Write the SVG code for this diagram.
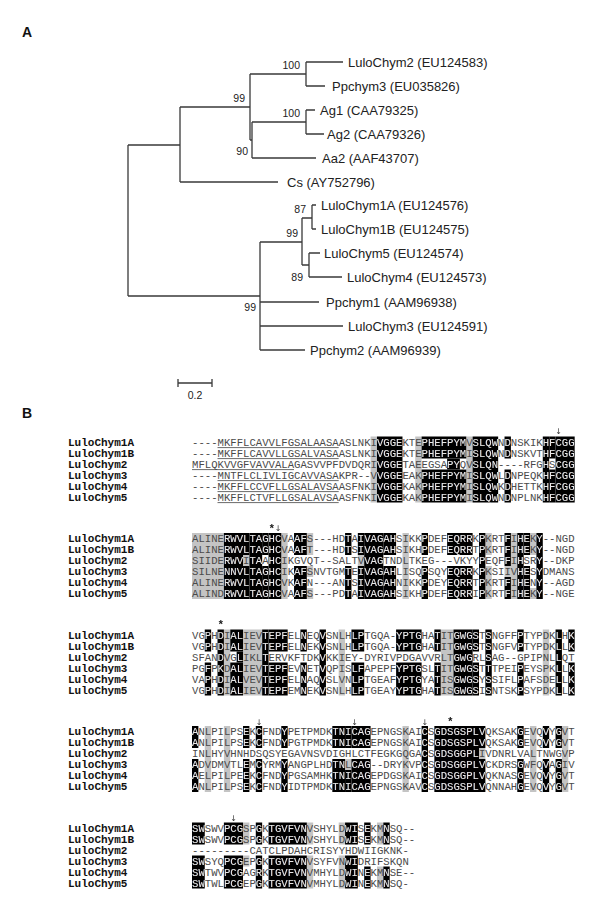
<svg xmlns="http://www.w3.org/2000/svg" xmlns:xlink="http://www.w3.org/1999/xlink" width="600" height="912" viewBox="0 0 600 912">
<style>
.pl{font:bold 14px "Liberation Sans",Arial,sans-serif;fill:#111}
.tl{font:13px "Liberation Sans",Arial,sans-serif;fill:#222}
.bs{font:10.5px "Liberation Sans",Arial,sans-serif;fill:#222}
.br{stroke:#3a3a3a;stroke-width:1.3;fill:none}
.nm{font:bold 11px "Liberation Mono","Courier New",monospace;fill:#111}
.sq{font:10.63px "Liberation Mono","Courier New",monospace}
.g{fill:#c4c4c4}
.mk{font:bold 11px "Liberation Mono",monospace;fill:#111;text-anchor:middle}
.ar{font:8px "DejaVu Sans",sans-serif;fill:#333;text-anchor:middle}
.ul{stroke:#444;stroke-width:0.8}
</style>
<defs>
<g id="kb">
<g transform="translate(192,436.5) scale(6.378,11)">
<rect x="29" y="0" width="4" height="6"/><rect x="36" y="0" width="7" height="2"/><rect x="36" y="3" width="7" height="3"/><rect x="40" y="2" width="2" height="1"/>
<rect x="44" y="0" width="4" height="6"/><rect x="49" y="0" width="1" height="2"/><rect x="49" y="3" width="1" height="3"/>
<rect x="55" y="0" width="1" height="6"/><rect x="56" y="0" width="1" height="2"/><rect x="56" y="3" width="1" height="3"/><rect x="57" y="0" width="3" height="6"/>
</g>
<g transform="translate(192,533) scale(6.378,11)">
<rect x="5" y="0" width="3" height="6"/><rect x="8" y="0" width="1" height="2"/><rect x="8" y="3" width="1" height="3"/><rect x="9" y="0" width="2" height="6"/>
<rect x="11" y="0" width="1" height="2"/><rect x="11" y="3" width="1" height="3"/><rect x="12" y="0" width="2" height="6"/>
<rect x="16" y="0" width="2" height="2"/><rect x="16" y="3" width="2" height="3"/>
<rect x="24" y="0" width="1" height="2"/><rect x="24" y="3" width="1" height="3"/><rect x="26" y="0" width="1" height="2"/><rect x="26" y="3" width="1" height="3"/>
<rect x="27" y="0" width="3" height="6"/><rect x="30" y="0" width="2" height="2"/><rect x="30" y="3" width="2" height="3"/>
<rect x="36" y="0" width="1" height="2"/><rect x="36" y="3" width="1" height="3"/><rect x="40" y="0" width="4" height="2"/><rect x="40" y="3" width="4" height="3"/>
<rect x="45" y="0" width="1" height="6"/><rect x="49" y="0" width="1" height="3"/><rect x="49" y="4" width="1" height="2"/>
<rect x="51" y="0" width="1" height="6"/><rect x="52" y="0" width="1" height="2"/><rect x="52" y="3" width="1" height="3"/><rect x="54" y="0" width="1" height="6"/>
</g>
<g transform="translate(192,629.5) scale(6.378,11)">
<rect x="2" y="0" width="1" height="2"/><rect x="2" y="3" width="1" height="3"/><rect x="4" y="0" width="1" height="6"/>
<rect x="6" y="0" width="2" height="2"/><rect x="6" y="3" width="2" height="3"/><rect x="7" y="2" width="1" height="1"/>
<rect x="11" y="0" width="1" height="6"/><rect x="12" y="0" width="3" height="2"/><rect x="12" y="3" width="3" height="3"/>
<rect x="17" y="0" width="1" height="2"/><rect x="17" y="3" width="1" height="3"/><rect x="20" y="0" width="1" height="6"/>
<rect x="25" y="0" width="2" height="2"/><rect x="25" y="3" width="2" height="3"/><rect x="32" y="0" width="4" height="2"/><rect x="32" y="3" width="4" height="3"/>
<rect x="38" y="0" width="1" height="2"/><rect x="38" y="3" width="1" height="3"/><rect x="41" y="0" width="3" height="6"/>
<rect x="44" y="0" width="1" height="2"/><rect x="44" y="3" width="1" height="3"/><rect x="46" y="0" width="1" height="6"/>
<rect x="51" y="0" width="1" height="2"/><rect x="51" y="3" width="1" height="3"/><rect x="57" y="0" width="1" height="6"/>
<rect x="59" y="0" width="1" height="2"/><rect x="59" y="3" width="1" height="3"/>
</g>
<g transform="translate(192,726) scale(6.378,11)">
<rect x="0" y="0" width="1" height="2"/><rect x="0" y="3" width="1" height="3"/><rect x="8" y="0" width="1" height="2"/><rect x="8" y="3" width="1" height="3"/>
<rect x="10" y="0" width="1" height="2"/><rect x="10" y="3" width="1" height="3"/><rect x="14" y="0" width="1" height="2"/><rect x="14" y="3" width="1" height="3"/>
<rect x="22" y="0" width="2" height="2"/><rect x="22" y="3" width="2" height="3"/><rect x="24" y="0" width="1" height="2"/><rect x="24" y="4" width="1" height="2"/>
<rect x="25" y="0" width="3" height="2"/><rect x="25" y="3" width="3" height="3"/><rect x="36" y="0" width="1" height="6"/><rect x="38" y="0" width="7" height="6"/>
<rect x="45" y="0" width="1" height="2"/><rect x="45" y="3" width="1" height="3"/><rect x="51" y="0" width="1" height="2"/><rect x="51" y="3" width="1" height="3"/>
<rect x="55" y="0" width="1" height="2"/><rect x="55" y="3" width="1" height="3"/><rect x="57" y="0" width="1" height="2"/><rect x="57" y="3" width="1" height="3"/>
</g>
<g transform="translate(192,822.5) scale(6.378,11)">
<rect x="0" y="0" width="2" height="2"/><rect x="0" y="3" width="2" height="3"/><rect x="5" y="0" width="3" height="2"/><rect x="5" y="3" width="3" height="3"/>
<rect x="10" y="0" width="1" height="2"/><rect x="10" y="3" width="1" height="3"/><rect x="12" y="0" width="6" height="2"/><rect x="12" y="3" width="6" height="3"/>
<rect x="24" y="0" width="2" height="2"/><rect x="24" y="3" width="2" height="3"/><rect x="27" y="0" width="1" height="2"/><rect x="27" y="4" width="1" height="2"/>
<rect x="30" y="0" width="1" height="2"/><rect x="30" y="4" width="1" height="2"/>
</g>
</g>
<mask id="mkb" maskUnits="userSpaceOnUse" x="0" y="0" width="600" height="912"><use xlink:href="#kb" href="#kb" fill="#fff"/></mask>
<g id="seqs" class="sq">
<text x="192" y="445.6">----MKFFLCAVVLFGSALAASAASLNKIVGGEKTEPHEFPYMVSLQWNDNSKIKHFCGG</text>
<text x="192" y="456.6">----MKFFLCAVVLLGSALVASAASLNKIVGGEKTEPHEFPYMISLQWNDNSKVTHFCGG</text>
<text x="192" y="467.6">MFLQKVVGFVAVVALAGASVVPFDVDQRIVGGETAEEGSAPYQVSLQN----RFGHSCGG</text>
<text x="192" y="478.6">----MNTFLCLIVLIGCAVVASAKPR--VVGGEEAKPHEFPYMISLQWLDNPEQKHFCGG</text>
<text x="192" y="489.6">----MKFFLCCVFLLGSALAVSAASFNKIVGGEKAKPHEFPYMISLQWKDHETTKHFCGG</text>
<text x="192" y="500.6">----MKFFLCTVFLLGSALAVSAASFNKIVGGEKAKPHEFPYMISLQWNDNPLNKHFCGG</text>
<text x="192" y="542.1">ALINERWVLTAGHCVAAFS---HDTAIVAGAHSIKKPDEFEQRRKPKRTFIHEKY--NGD</text>
<text x="192" y="553.1">ALINERWVLTAGHCVAAFT---HDTSIVAGAHSIKHPDEFEQRRTPKRTFIHEKY--NGD</text>
<text x="192" y="564.1">SIIDERWVITAAHCIKGVQT--SALTVVAGTNDLTKEG---VKYYPEQFFIHSRY--DKP</text>
<text x="192" y="575.1">SILNENNVLTAGHCIKAFSNVTGMTEIVAGAHLISQPSQYEQRRKPKSIIVHESYDMANS</text>
<text x="192" y="586.1">ALINERWVLTAGHCVKAFN---ANTSIVAGAHNIKKPDEYEQRRTPKRTFIHENY--AGD</text>
<text x="192" y="597.1">ALINDRWVLTAGHCVAAFS---PDTAIVAGAHSIKHPDEFEQRRIPKRTFIHEKY--NGE</text>
<text x="192" y="638.6">VGPHDIALIEVTEPFELNEQVSNLHLPTGQA-YPTGHATITGWGSTSNGFFPTYPDKLHK</text>
<text x="192" y="649.6">VGPHDIALIEVTEPFELNEKVSNLHLPTGQA-YPTGHATITGWGSTSNGFVPTYPDKLLK</text>
<text x="192" y="660.6">SFANDVGLIKLTERVKFTDKVKKIEY-DYRIVPDGAVVRLTGWGRLSAG--GPIPNLLQT</text>
<text x="192" y="671.6">PGFPKDALIEVTEPFEVNETVQPISLFAPEPFYPTGSLTITGWGSTTTPEIPEYSPKLLK</text>
<text x="192" y="682.6">VAPHDIALVEVTEPFELNAQVSLVNLPTGEAFYPTGYATISGWGSYSSIFLPAFSDELLK</text>
<text x="192" y="693.6">VGPHDIALIEVTEPFEMNEKVSNLHLPTGEAYYPTGHATISGWGSISNTSKPSYPDKLLK</text>
<text x="192" y="735.1">ANLPILPSEKCFNDYPETPMDKTNICAGEPNGSKAICSGDSGSPLVQKSAKGEVQVYGVT</text>
<text x="192" y="746.1">ANLPILPSEKCFNDYPGTPMDKTNICAGEPNGSKAICSGDSGSPLVQKSAKGEVQVYGVT</text>
<text x="192" y="757.1">INLHYVHNHDSQSYEGAVNSVDIGHLCTFEGKGQGACSGDSGGPLIVDNRLVALTNWGVP</text>
<text x="192" y="768.1">ADVDMVTLEMCYRMYANGPLHDTNLCAG--DRYKVPCSGDSGGPLVCKDRSGWFQVAGIV</text>
<text x="192" y="779.1">AELPILPEEKCFNDYPGSAMHKTNICAGEPDGSKAICSGDSGGPLVQKNASGEVQVYGVT</text>
<text x="192" y="790.1">ANLPILPSEKCFNDYIDTPMDKTNICAGEPNGSKAVCSGDSGSPLVQNNAHGEVQVYGVT</text>
<text x="192" y="831.6">SWSWVPCGSPGKTGVFVNVSHYLDWISEKMNSQ--</text>
<text x="192" y="842.6">SWSWVPCGSPGKTGVFVNVSHYLDWISEKMNSQ--</text>
<text x="192" y="853.6">---------CATCLPDAHCRISYYHDWIIGKNK-</text>
<text x="192" y="864.6">SWSYQPCGEPGKTGVFVNVSYFVNWIDRIFSKQN</text>
<text x="192" y="875.6">SWTWVPCGAGRKTGVFVNVMHYLDWINEKMNSE--</text>
<text x="192" y="886.6">SWTWLPCGEPGKTGVFVNVMHYLDWINEKMNSQ-</text>
</g>
</defs>
<rect width="600" height="912" fill="#fff"/>

<!-- Panel A -->
<text class="pl" x="22" y="37">A</text>
<g id="connectors" class="br">
<path d="M128,145V296M128,145H180M128,296H260"/>
<path d="M180,107V182M180,182H278M180,107H250"/>
<path d="M250,74V140M250,74H306M250,140H252"/>
<path d="M252,122V158M252,122H306M252,158H316"/>
<path d="M306,62V86M306,62H343M306,86H325"/>
<path d="M306,110V134M306,110H315M306,134H324"/>
<path d="M260,242V350M260,242H302M260,302H319M260,326H343M260,350H305"/>
<path d="M302,218V265M302,218H312M302,265H309"/>
<path d="M312,205V229M312,205H316M312,229H316"/>
<path d="M309,253V277M309,253H320M309,277H342"/>
</g>
<g id="bootstrap" class="bs" text-anchor="end">
<text x="300" y="68.5">100</text>
<text x="245" y="101.5">99</text>
<text x="300" y="116.5">100</text>
<text x="248" y="154.5">90</text>
<text x="306" y="212.5">87</text>
<text x="298" y="236.5">99</text>
<text x="303" y="280.5">89</text>
<text x="256" y="310.5">99</text>
</g>
<g id="leaf-LuloChym2"><text class="tl" x="348" y="66.5">LuloChym2 (EU124583)</text></g>
<g id="leaf-Ppchym3"><text class="tl" x="332" y="90.5">Ppchym3 (EU035826)</text></g>
<g id="leaf-Ag1"><text class="tl" x="320" y="114.5">Ag1 (CAA79325)</text></g>
<g id="leaf-Ag2"><text class="tl" x="327" y="138.5">Ag2 (CAA79326)</text></g>
<g id="leaf-Aa2"><text class="tl" x="322" y="162.5">Aa2 (AAF43707)</text></g>
<g id="leaf-Cs"><text class="tl" x="287" y="186.5">Cs (AY752796)</text></g>
<g id="leaf-LuloChym1A"><text class="tl" x="321" y="209.5">LuloChym1A (EU124576)</text></g>
<g id="leaf-LuloChym1B"><text class="tl" x="321" y="233.5">LuloChym1B (EU124575)</text></g>
<g id="leaf-LuloChym5"><text class="tl" x="324" y="257.5">LuloChym5 (EU124574)</text></g>
<g id="leaf-LuloChym4"><text class="tl" x="347" y="281.5">LuloChym4 (EU124573)</text></g>
<g id="leaf-Ppchym1"><text class="tl" x="326" y="306.5">Ppchym1 (AAM96938)</text></g>
<g id="leaf-LuloChym3"><text class="tl" x="348" y="330.5">LuloChym3 (EU124591)</text></g>
<g id="leaf-Ppchym2"><text class="tl" x="310" y="354.5">Ppchym2 (AAM96939)</text></g>
<g id="scalebar">
<path class="br" d="M178,383H212M178,379V387M212,379V387"/>
<text class="bs" x="195" y="399" text-anchor="middle">0.2</text>
</g>

<!-- Panel B -->
<text class="pl" x="22" y="418">B</text>
<g id="gray-shading" class="g">
<g transform="translate(192,436.5) scale(6.378,11)">
<rect x="28" y="0" width="1" height="6"/><rect x="35" y="0" width="1" height="6"/><rect x="43" y="0" width="1" height="6"/>
</g>
<g transform="translate(192,533) scale(6.378,11)">
<rect x="0" y="0" width="5" height="6"/><rect x="8" y="2" width="1" height="1"/><rect x="14" y="0" width="1" height="6"/>
<rect x="18" y="0" width="1" height="2"/><rect x="18" y="3" width="1" height="1"/><rect x="18" y="5" width="1" height="1"/>
<rect x="26" y="2" width="1" height="1"/><rect x="33" y="0" width="1" height="6"/>
<rect x="46" y="0" width="1" height="2"/><rect x="46" y="3" width="1" height="3"/><rect x="49" y="3" width="1" height="1"/>
<rect x="50" y="0" width="1" height="6"/><rect x="53" y="0" width="1" height="2"/><rect x="53" y="5" width="1" height="1"/>
</g>
<g transform="translate(192,629.5) scale(6.378,11)">
<rect x="5" y="0" width="1" height="6"/><rect x="8" y="0" width="3" height="6"/><rect x="23" y="0" width="1" height="6"/>
<rect x="39" y="0" width="2" height="6"/><rect x="55" y="0" width="1" height="6"/>
</g>
<g transform="translate(192,726) scale(6.378,11)">
<rect x="2" y="0" width="1" height="6"/><rect x="5" y="0" width="1" height="6"/><rect x="24" y="3" width="1" height="1"/>
<rect x="33" y="0" width="1" height="6"/><rect x="45" y="2" width="1" height="1"/><rect x="53" y="0" width="1" height="6"/><rect x="58" y="0" width="1" height="6"/>
</g>
<g transform="translate(192,822.5) scale(6.378,11)">
<rect x="8" y="0" width="1" height="2"/><rect x="8" y="3" width="1" height="1"/>
<rect x="18" y="0" width="1" height="2"/><rect x="18" y="3" width="1" height="3"/>
<rect x="23" y="0" width="1" height="2"/><rect x="23" y="3" width="1" height="3"/>
<rect x="29" y="0" width="1" height="2"/><rect x="29" y="4" width="1" height="2"/>
</g>
</g>
<use id="black-shading" xlink:href="#kb" href="#kb" fill="#000"/>
<use xlink:href="#seqs" href="#seqs" fill="#4a4a4a"/>
<use xlink:href="#seqs" href="#seqs" fill="#e8e8e8" mask="url(#mkb)"/>
<g id="signal-underline" class="ul">
<path d="M217.5,447.6H338.7M217.5,458.6H338.7M192,469.6H294M217.5,480.6H338.7M217.5,491.6H338.7M217.5,502.6H338.7"/>
</g>
<g id="names" class="nm">
<text x="68" y="445.6">LuloChym1A</text><text x="68" y="456.6">LuloChym1B</text><text x="68" y="467.6">LuloChym2</text><text x="68" y="478.6">LuloChym3</text><text x="68" y="489.6">LuloChym4</text><text x="68" y="500.6">LuloChym5</text>
<text x="68" y="542.1">LuloChym1A</text><text x="68" y="553.1">LuloChym1B</text><text x="68" y="564.1">LuloChym2</text><text x="68" y="575.1">LuloChym3</text><text x="68" y="586.1">LuloChym4</text><text x="68" y="597.1">LuloChym5</text>
<text x="68" y="638.6">LuloChym1A</text><text x="68" y="649.6">LuloChym1B</text><text x="68" y="660.6">LuloChym2</text><text x="68" y="671.6">LuloChym3</text><text x="68" y="682.6">LuloChym4</text><text x="68" y="693.6">LuloChym5</text>
<text x="68" y="735.1">LuloChym1A</text><text x="68" y="746.1">LuloChym1B</text><text x="68" y="757.1">LuloChym2</text><text x="68" y="768.1">LuloChym3</text><text x="68" y="779.1">LuloChym4</text><text x="68" y="790.1">LuloChym5</text>
<text x="68" y="831.6">LuloChym1A</text><text x="68" y="842.6">LuloChym1B</text><text x="68" y="853.6">LuloChym2</text><text x="68" y="864.6">LuloChym3</text><text x="68" y="875.6">LuloChym4</text><text x="68" y="886.6">LuloChym5</text>
</g>
<g id="markers" opacity="0.99">
<text class="ar" x="558.7" y="434">↓</text>
<text class="mk" x="271.7" y="531.5">*</text><text class="ar" x="278.1" y="531">↓</text>
<text class="mk" x="220.7" y="628">*</text>
<text class="ar" x="259" y="724.5">↓</text><text class="ar" x="354.6" y="724.5">↓</text><text class="ar" x="424.8" y="724.5">↓</text><text class="mk" x="450.3" y="724.5">*</text>
<text class="ar" x="233.5" y="821">↓</text>
</g>
</svg>
